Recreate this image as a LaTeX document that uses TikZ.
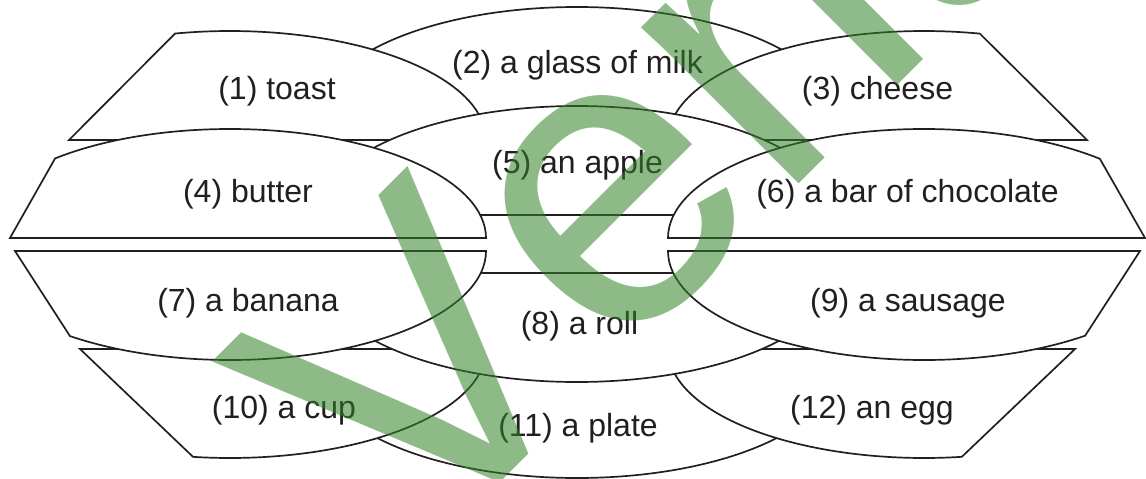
\documentclass[tikz,border=0pt]{standalone}
\usepackage{fontspec}
\setmainfont{Liberation Sans}
\newfontfamily\wmfont[Kerning=Off]{Liberation Sans}
\definecolor{ink}{HTML}{231F20}
\definecolor{wmgreen}{RGB}{50,131,40}
\begin{document}
\begin{tikzpicture}[x=1pt,y=-1pt,
  bowl/.style={draw=ink,fill=white,line width=1.7pt,line join=miter},
  lbl/.style={font=\fontsize{32}{38}\selectfont,text=ink,inner sep=0pt,anchor=center},
  wm/.style={font=\wmfont\fontsize{420}{420}\selectfont,text=wmgreen,text opacity=0.55,inner sep=0pt}]
\useasboundingbox (0,0) rectangle (1146,479);
\clip (0,0) rectangle (1146,479);
% back layer: (2) and (11)
\draw[bowl] (577,116) ++(180:258 and 109) arc[start angle=180,end angle=360,x radius=258,y radius=109] -- cycle;
\draw[bowl] (577,369) ++(0:258 and 109) arc[start angle=0,end angle=180,x radius=258,y radius=109] -- cycle;
% corner bowls (1) (3) (10) (12)
\draw[bowl] (230,140) ++(257.6:256 and 109) arc[start angle=257.6,end angle=360,x radius=256,y radius=109] -- (69,140) -- cycle;
\draw[bowl] (924,140) ++(180:256 and 109) arc[start angle=180,end angle=282.6,x radius=256,y radius=109] -- (1087,140) -- cycle;
\draw[bowl] (230,349) ++(0:256 and 109) arc[start angle=0,end angle=98.3,x radius=256,y radius=109] -- (80,349) -- cycle;
\draw[bowl] (924,349) ++(81.5:256 and 109) arc[start angle=81.5,end angle=180,x radius=256,y radius=109] -- (1075,349) -- cycle;
% centre (5) and (8)
\draw[bowl] (577,215) ++(180:258 and 109) arc[start angle=180,end angle=360,x radius=258,y radius=109] -- cycle;
\draw[bowl] (577,273) ++(0:258 and 109) arc[start angle=0,end angle=180,x radius=258,y radius=109] -- cycle;
% middle side bowls (4) (6) (7) (9)
\draw[bowl] (230,238) ++(226.9:256 and 109) arc[start angle=226.9,end angle=360,x radius=256,y radius=109] -- (10,238) -- cycle;
\draw[bowl] (924,238) ++(180:256 and 109) arc[start angle=180,end angle=313.4,x radius=256,y radius=109] -- (1145,238) -- cycle;
\draw[bowl] (230,251) ++(0:256 and 109) arc[start angle=0,end angle=128.7,x radius=256,y radius=109] -- (15,251) -- cycle;
\draw[bowl] (924,251) ++(51:256 and 109) arc[start angle=51,end angle=180,x radius=256,y radius=109] -- (1140,251) -- cycle;
% labels
\node[lbl] (l1) at (277,91) {(1) toast};
\node[lbl] (l2) at (577.5,65) {(2) a glass of milk};
\node[lbl] (l3) at (877.5,91) {(3) cheese};
\node[lbl] (l4) at (248,194) {(4) butter};
\node[lbl] (l5) at (577.5,165) {(5) an apple};
\node[lbl] (l6) at (907.5,194) {(6) a bar of chocolate};
\node[lbl] (l7) at (248,303) {(7) a banana};
\node[lbl] (l8) at (579.5,326) {(8) a roll};
\node[lbl] (l9) at (908,303) {(9) a sausage};
\node[lbl] (l10) at (284,410) {(10) a cup};
\node[lbl] (l11) at (578,428) {(11) a plate};
\node[lbl] (l12) at (872,410) {(12) an egg};
% watermark
\node[wm,rotate=45,anchor=base west] (wmk) at (415,568) {Verlag};
\end{tikzpicture}
\end{document}
